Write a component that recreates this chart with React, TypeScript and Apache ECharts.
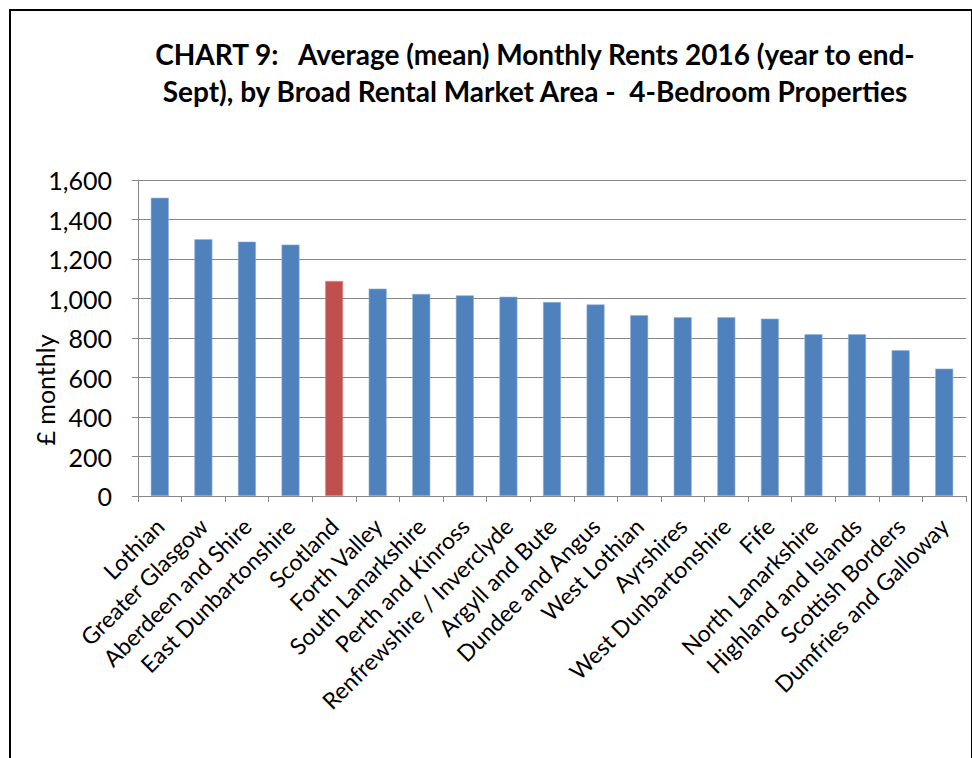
import React, { useEffect, useRef } from "react";
import * as echarts from "echarts";

const categories = [
  "Lothian",
  "Greater Glasgow",
  "Aberdeen and Shire",
  "East Dunbartonshire",
  "Scotland",
  "Forth Valley",
  "South Lanarkshire",
  "Perth and Kinross",
  "Renfrewshire / Inverclyde",
  "Argyll and Bute",
  "Dundee and Angus",
  "West Lothian",
  "Ayrshires",
  "West Dunbartonshire",
  "Fife",
  "North Lanarkshire",
  "Highland and Islands",
  "Scottish Borders",
  "Dumfries and Galloway",
];

const rents = [1510, 1300, 1288, 1273, 1089, 1050, 1023, 1016, 1009, 982, 970, 916, 905, 905, 898, 819, 819, 738, 645];

const highlighted = "Scotland";

const titleLines = [
  "CHART 9:   Average (mean) Monthly Rents 2016 (year to end-",
  "Sept), by Broad Rental Market Area -  4-Bedroom Properties",
];

const yAxisName = "£ monthly";

const BLUE = "#4F81BD";
const RED = "#C0504D";
const FONT = "Lato, 'Noto Sans', sans-serif";

export default function App() {
  const ref = useRef<HTMLDivElement>(null);

  useEffect(() => {
    if (!ref.current) return;
    const chart = echarts.init(ref.current, undefined, { renderer: "svg" });
    chart.setOption({
      animation: false,
      backgroundColor: "#ffffff",
      textStyle: { fontFamily: FONT },
      title: {
        text: titleLines.join("\n"),
        left: 530,
        top: 30,
        textAlign: "center",
        textStyle: {
          fontFamily: FONT,
          fontSize: 28,
          fontWeight: "bold",
          color: "#000000",
          lineHeight: 37,
        },
      },
      grid: { left: 138, right: 6, top: 180, bottom: 262, containLabel: false },
      xAxis: {
        type: "category",
        data: categories,
        axisLine: { show: true, lineStyle: { color: "#868686", width: 1 } },
        axisTick: { show: true, alignWithLabel: false, length: 6, lineStyle: { color: "#868686" } },
        axisLabel: {
          interval: 0,
          rotate: 45,
          margin: 26,
          fontFamily: FONT,
          fontSize: 23,
          color: "#000000",
        },
      },
      yAxis: {
        type: "value",
        min: 0,
        max: 1600,
        interval: 200,
        axisLine: { show: true, lineStyle: { color: "#868686", width: 1 } },
        axisTick: { show: true, length: 6, lineStyle: { color: "#868686" } },
        splitLine: { show: true, lineStyle: { color: "#878787", width: 1 } },
        axisLabel: {
          margin: 26,
          fontFamily: FONT,
          fontSize: 25,
          color: "#000000",
          formatter: (v: number) => v.toLocaleString("en-GB"),
        },
      },
      graphic: [
        {
          type: "rect",
          shape: { x: 10, y: 10, width: 962, height: 760 },
          style: { fill: "none", stroke: "#000000", lineWidth: 2 },
          silent: true,
        },
        {
          type: "text",
          x: 45,
          y: 390,
          rotation: Math.PI / 2,
          style: {
            text: yAxisName,
            fontFamily: FONT,
            fontSize: 25,
            fill: "#000000",
            align: "center",
            verticalAlign: "middle",
          },
        },
      ],
      series: [
        {
          type: "bar",
          barWidth: 18,
          data: rents.map((v, i) => ({
            value: v,
            itemStyle: {
              color: categories[i] === highlighted ? RED : BLUE,
              borderColor: categories[i] === highlighted ? "#d99694" : "#95b3d7",
              borderWidth: 0.6,
            },
          })),
        },
      ],
    });
    return () => chart.dispose();
  }, []);

  return (
    <div
      ref={ref}
      style={{ position: "fixed", left: 0, top: 0, width: 972, height: 758 }}
    />
  );
}
